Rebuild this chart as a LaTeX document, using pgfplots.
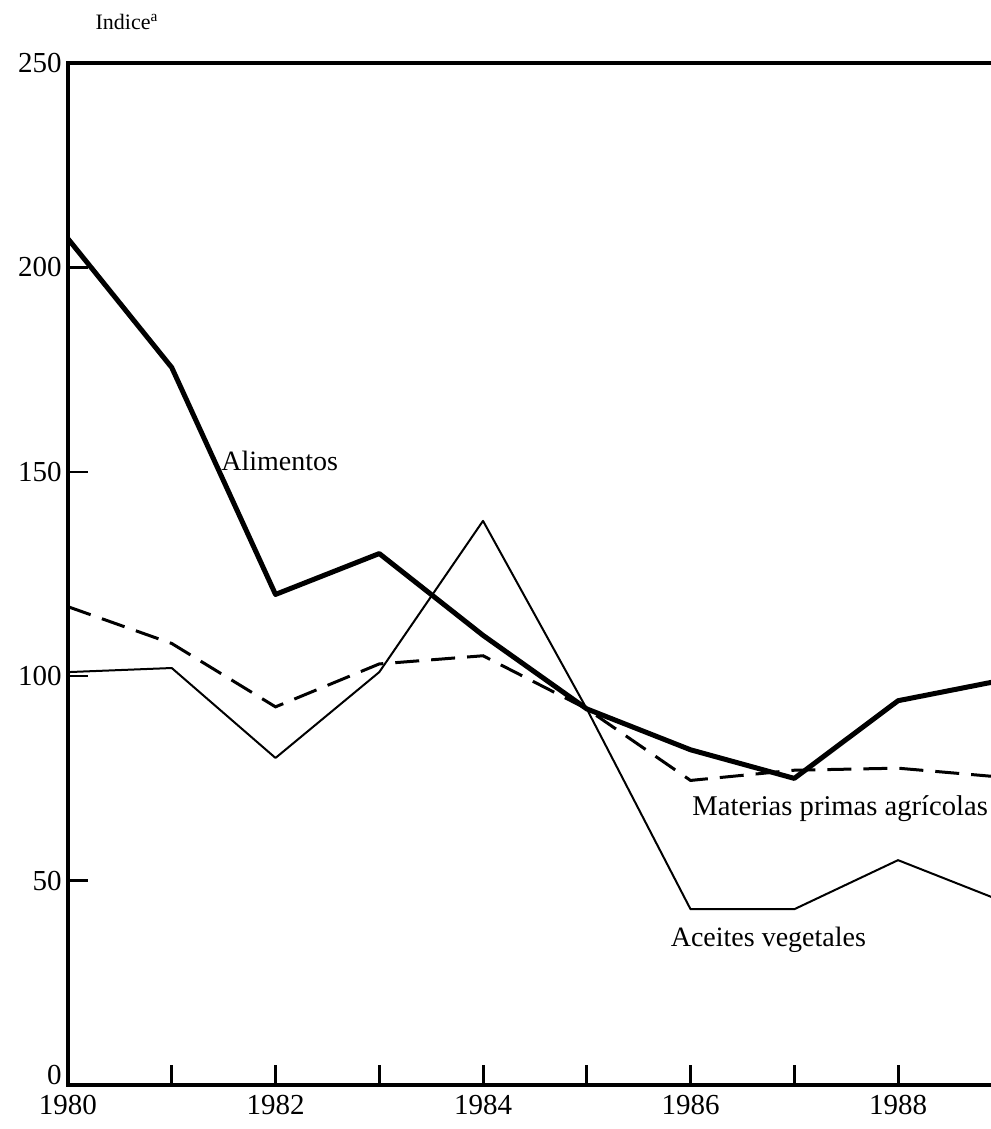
\documentclass[border=0pt]{standalone}
\usepackage{fontspec}
\setmainfont{Liberation Serif}
\usepackage{pgfplots}
\pgfplotsset{compat=1.18}
\begin{document}
\begin{tikzpicture}
\useasboundingbox (0,0) rectangle (495pt,564.5pt);
\begin{axis}[
  at={(34pt,22pt)}, anchor=south west,
  scale only axis, width=463pt, height=511pt,
  xmin=1980, xmax=1988.925, ymin=0, ymax=250,
  axis line style={line width=2pt},
  xtick={1980,1981,...,1988},
  xticklabels={1980,,1982,,1984,,1986,,1988},
  ytick={50,100,150,200,250},
  extra y ticks={0},
  extra y tick style={yticklabel style={yshift=5pt}},
  xtick pos=lower, ytick pos=left,
  tick align=inside,
  x tick style={line width=1.5pt, black},
  y tick style={line width=1.2pt, black},
  major tick length=10pt,
  tick label style={font=\fontsize{14.5}{16}\selectfont},
  xticklabel style={yshift=-4pt, inner sep=1pt},
  yticklabel style={inner sep=1pt, xshift=-2pt},
  /pgf/number format/assume math mode=true,
  /pgf/number format/1000 sep={},
  clip=true,
]
\addplot[black, line width=2.5pt, line join=round] coordinates {
 (1980,207) (1981,175.5) (1982,120) (1983,130) (1984,110) (1985,92) (1986,82) (1987,75) (1988,94) (1989,99)};
\addplot[black, line width=1pt, line join=round] coordinates {
 (1980,101) (1981,102) (1982,80) (1983,101) (1984,138) (1985,92) (1986,43) (1987,43) (1988,55) (1989,45)};
\addplot[black, line width=1.5pt, dash pattern=on 12pt off 6pt] coordinates {
 (1980,117) (1981,108) (1982,92.5) (1983,103) (1984,105) (1985,92) (1986,74.5) (1987,77) (1988,77.5) (1989,75.3)};
\node[font=\fontsize{14}{16}\selectfont] at (axis cs:1982.04,152.6) {Alimentos};
\node[font=\fontsize{14.3}{16}\selectfont, anchor=base east, inner sep=0pt] at (axis cs:1988.87,66.0) {Materias primas agrícolas};
\node[font=\fontsize{14}{16}\selectfont, anchor=base, inner sep=0pt] at (axis cs:1986.75,33.8) {Aceites vegetales};
\end{axis}
\node[font=\fontsize{11}{13}\selectfont] at (63.5pt,553.5pt) {Indice\textsuperscript{a}};
\end{tikzpicture}
\end{document}
